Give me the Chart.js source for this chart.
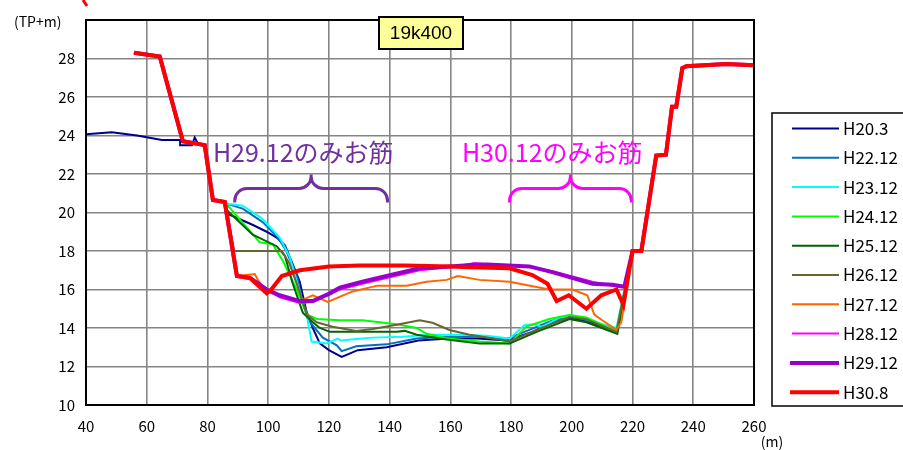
<!DOCTYPE html>
<html>
<head>
<meta charset="utf-8">
<script src="https://cdn.jsdelivr.net/npm/chart.js@4"></script>
<style>
  html, body { margin: 0; padding: 0; background: #fff; }
  #wrap { width: 903px; height: 450px; }
</style>
</head>
<body>
<div id="wrap"><canvas id="sectionChart" width="903" height="450"></canvas></div>
<script>
// Survey years
const seriesNames = ['H20.3', 'H22.12', 'H23.12', 'H24.12', 'H25.12', 'H26.12', 'H27.12', 'H28.12', 'H29.12', 'H30.8'];
const seriesColors = ['#00008B', '#0070C0', '#00FFFF', '#00FF00', '#006400', '#666633', '#FF6600', '#FF00FF', '#9900CC', '#FF0000'];
const seriesWidths = [2, 2, 2, 2, 2, 2, 2, 2, 4, 4];

// Shared bank profile (distance m, elevation TP+m)
const bankLeft = [[55.8, 28.3], [64.3, 28.1], [71.9, 23.7], [79.1, 23.5], [81.8, 20.65], [85.7, 20.55]];
const bankRight = [[220, 18], [222.9, 18], [227.8, 22.96], [231, 23], [233, 25.5], [234.4, 25.5], [236.4, 27.5], [237.7, 27.6], [250.8, 27.72], [260, 27.65]];

// H20.3 has its own left bank part
const h20_3Left = [[40, 24.07], [48.5, 24.17], [56.8, 24.0], [65, 23.77], [71, 23.77], [71, 23.5], [74.9, 23.5], [75.8, 23.9], [76.8, 23.6], [79.1, 23.5], [81.8, 20.65], [85.7, 20.55]];
const h20_3 = [[86.4, 19.95], [95, 19.35], [99.5, 19.0], [102.8, 18.7], [105.5, 18.3], [108, 17.35], [110.4, 16.4], [112.7, 14.8], [114.7, 14.0], [117, 13.2], [120, 12.85], [124.2, 12.5], [129.5, 12.85], [139, 13.0], [149.5, 13.35], [159.5, 13.45], [169, 13.45], [178.5, 13.35], [187, 13.8], [193.6, 14.3], [199.2, 14.5], [204.8, 14.35], [210, 14.1], [214.7, 13.8]];
const h22_12 = [[86.5, 20.45], [91.6, 20.2], [98.2, 19.5], [103.2, 18.7], [106, 18.0], [109.4, 16.7], [111.4, 15.3], [114.3, 14.2], [118, 13.5], [122.6, 13.1], [124.2, 12.8], [129, 13.05], [139, 13.15], [148.9, 13.45], [158.8, 13.55], [169, 13.55], [179, 13.45], [186, 13.9], [193, 14.35], [199.5, 14.6], [205, 14.4], [210, 14.15], [215, 13.85]];
const h23_12 = [[86.5, 20.45], [91.6, 20.35], [97.9, 19.7], [103.8, 18.7], [107.1, 17.7], [110.4, 15.85], [112.7, 14.65], [114.3, 13.3], [119.3, 13.2], [122.9, 13.45], [124, 13.35], [131, 13.45], [134.4, 13.5], [144.3, 13.55], [153.2, 13.65], [164, 13.65], [172, 13.6], [179.5, 13.45], [184.4, 14.15], [187.7, 14.2], [190, 14.05], [196, 14.55], [200.2, 14.65], [205, 14.45], [210, 14.2], [214.7, 14.0]];
const h24_12 = [[86.5, 20.4], [97.2, 18.45], [101.5, 18.35], [104.8, 17.5], [109.4, 16.0], [112.7, 14.7], [116, 14.47], [123.6, 14.4], [131, 14.4], [142.3, 14.2], [148.9, 14.0], [152.2, 13.7], [158.8, 13.47], [169.6, 13.3], [179.5, 13.2], [185, 14.07], [192.6, 14.47], [199.2, 14.67], [204.8, 14.55], [214.7, 13.85]];
const h25_12 = [[86.5, 20.1], [94.9, 18.85], [102.8, 18.25], [105.5, 17.75], [108, 16.35], [111.4, 14.8], [114.7, 14.3], [117, 14.0], [120.3, 13.8], [142.3, 13.8], [145, 13.85], [148.9, 13.65], [158.8, 13.4], [169.6, 13.2], [179.5, 13.2], [188.4, 13.8], [199.2, 14.47], [204.8, 14.3], [215, 13.7]];
const h26_12 = [[88.8, 18.0], [104.5, 18.0], [107, 17.35], [110.4, 15.85], [112.7, 14.7], [116, 14.3], [121.2, 14.07], [129, 13.85], [134.4, 13.95], [142.3, 14.17], [149.9, 14.4], [154.1, 14.27], [159.7, 13.9], [166.3, 13.65], [169.6, 13.57], [179.5, 13.3], [188.4, 13.9], [199.2, 14.57], [204.8, 14.45], [214.7, 13.8]];
const h27_12 = [[89.7, 16.7], [95.6, 16.8], [96.6, 16.5], [99.5, 15.9], [104, 15.65], [110.4, 15.4], [114.7, 15.7], [119.6, 15.35], [127.8, 15.9], [136, 16.2], [145.6, 16.2], [152.2, 16.4], [158.8, 16.5], [162.4, 16.7], [169.6, 16.5], [179.5, 16.4], [192.6, 16.0], [200.2, 16.0], [205.1, 15.7], [207.4, 14.7], [210, 14.4], [214.7, 13.9], [216.3, 14.3]];
const h28_12 = [[89.7, 16.7], [94, 16.6], [99.5, 16.0], [103.8, 15.6], [110.4, 15.3], [114.7, 15.35], [120.3, 15.75], [123.6, 16.0], [131, 16.3], [139, 16.6], [149.9, 17.0], [159.7, 17.15], [168, 17.38], [172, 17.3], [186, 17.2], [193.6, 16.95], [206.8, 16.4], [213.4, 16.2], [217.3, 16.1]];
const h29_12 = [[89.7, 16.7], [94, 16.6], [99.5, 16.0], [103.8, 15.7], [110.4, 15.4], [114.7, 15.4], [120.3, 15.8], [123.6, 16.1], [131, 16.4], [139, 16.7], [149.9, 17.1], [159.7, 17.2], [169.6, 17.3], [172, 17.3], [186, 17.2], [193.6, 16.9], [206.8, 16.3], [213.4, 16.25], [217.3, 16.15]];
const h30_8 = [[89.7, 16.7], [94, 16.6], [99.5, 15.8], [101, 16.0], [104.5, 16.7], [110.4, 17.0], [120, 17.2], [130, 17.25], [145, 17.25], [160, 17.2], [166.3, 17.15], [179.5, 17.1], [187, 16.75], [192, 16.3], [195, 15.4], [199, 15.7], [204.8, 15.0], [209.7, 15.7], [214.7, 16.0], [217, 15.2]];

const channels = [h20_3, h22_12, h23_12, h24_12, h25_12, h26_12, h27_12, h28_12, h29_12, h30_8];

// Notes above the channel
const notes = [
    { text: 'H29.12のみお筋', color: '#7030A0', x: 81.8, y: 23.1, from: 89.0, to: 139.3 },
    { text: 'H30.12のみお筋', color: '#FF00FF', x: 163.8, y: 23.1, from: 179.5, to: 219.6 },
];

const JP_FONT = "'Noto Sans CJK JP', 'Noto Sans', sans-serif";

function toPoints(pairs) {
    return pairs.map(([x, y]) => ({ x, y }));
}

const datasets = seriesNames.map((name, i) => {
    const left = i === 0 ? h20_3Left : bankLeft;
    return {
        label: name,
        data: toPoints([...left, ...channels[i], ...bankRight]),
        borderColor: seriesColors[i],
        backgroundColor: seriesColors[i],
        borderWidth: seriesWidths[i],
        pointRadius: 0,
        tension: 0,
        order: seriesNames.length - i,
    };
});

// Frame, title box, notes, braces, axis units and legend
const decorPlugin = {
    id: 'decor',
    afterDraw(chart) {
        const { ctx, chartArea, scales } = chart;
        const xs = scales.x, ys = scales.y;
        ctx.save();

        // frame
        ctx.strokeStyle = '#000';
        ctx.lineWidth = 2;
        ctx.strokeRect(chartArea.left, chartArea.top, chartArea.right - chartArea.left, chartArea.bottom - chartArea.top);

        // stray red mark at top left
        ctx.strokeStyle = '#FF0000';
        ctx.lineWidth = 3;
        ctx.beginPath();
        ctx.moveTo(83, 0);
        ctx.lineTo(87, 6);
        ctx.stroke();

        // section name
        ctx.fillStyle = '#FFFF99';
        ctx.fillRect(379, 17, 84, 32);
        ctx.strokeStyle = '#000';
        ctx.lineWidth = 2;
        ctx.strokeRect(379, 17, 84, 32);
        ctx.fillStyle = '#000';
        ctx.font = "19px 'Liberation Sans', Arial, sans-serif";
        ctx.textAlign = 'center';
        ctx.textBaseline = 'middle';
        ctx.fillText('19k400', 421, 34);

        // notes and braces
        notes.forEach((n) => {
            ctx.fillStyle = n.color;
            ctx.font = '25px ' + JP_FONT;
            ctx.textAlign = 'left';
            ctx.textBaseline = 'middle';
            ctx.fillText(n.text, xs.getPixelForValue(n.x), ys.getPixelForValue(n.y));

            const x0 = xs.getPixelForValue(n.from);
            const x1 = xs.getPixelForValue(n.to);
            const xm = (x0 + x1) / 2;
            const yb = ys.getPixelForValue(21.25);
            ctx.strokeStyle = n.color;
            ctx.lineWidth = 3;
            ctx.beginPath();
            ctx.moveTo(x0, yb + 14);
            ctx.arcTo(x0, yb, x0 + 12, yb, 12);
            ctx.lineTo(xm - 12, yb);
            ctx.arcTo(xm, yb, xm, yb - 14, 12);
            ctx.lineTo(xm, yb - 14);
            ctx.moveTo(xm, yb - 14);
            ctx.arcTo(xm, yb, xm + 12, yb, 12);
            ctx.lineTo(x1 - 12, yb);
            ctx.arcTo(x1, yb, x1, yb + 14, 12);
            ctx.lineTo(x1, yb + 14);
            ctx.stroke();
        });

        // axis units
        ctx.fillStyle = '#000';
        ctx.font = '14px ' + JP_FONT;
        ctx.textAlign = 'left';
        ctx.textBaseline = 'middle';
        ctx.fillText('(TP+m)', 14, 22);
        ctx.textAlign = 'center';
        ctx.fillText('(m)', 772, 442);

        // legend
        ctx.fillStyle = '#fff';
        ctx.fillRect(772, 113, 140, 293);
        ctx.strokeStyle = '#000';
        ctx.lineWidth = 1.5;
        ctx.strokeRect(772, 113, 140, 293);
        ctx.font = '17px ' + JP_FONT;
        ctx.textAlign = 'left';
        ctx.textBaseline = 'middle';
        seriesNames.forEach((name, i) => {
            const y = 128.5 + i * 29.3;
            ctx.strokeStyle = seriesColors[i];
            ctx.lineWidth = seriesWidths[i];
            ctx.beginPath();
            ctx.moveTo(seriesWidths[i] > 2 ? 790 : 792, y);
            ctx.lineTo(839, y);
            ctx.stroke();
            ctx.fillStyle = '#000';
            ctx.fillText(name, 843, y);
        });

        ctx.restore();
    },
};

const ctx = document.getElementById('sectionChart').getContext('2d');
new Chart(ctx, {
    type: 'line',
    data: { datasets },
    options: {
        responsive: false,
        animation: false,
        parsing: true,
        layout: { padding: { top: 8, right: 149, left: 0, bottom: 0 } },
        plugins: {
            legend: { display: false },
            tooltip: { enabled: false },
        },
        scales: {
            x: {
                type: 'linear',
                min: 40,
                max: 260,
                afterFit: (scale) => { scale.height = 45; },
                ticks: {
                    stepSize: 20,
                    color: '#000',
                    padding: 12,
                    maxRotation: 0,
                    font: { family: JP_FONT, size: 15 },
                },
                grid: { color: '#858585', lineWidth: 1.6, drawTicks: false },
                border: { color: '#000', width: 2 },
            },
            y: {
                min: 10,
                max: 30,
                afterFit: (scale) => { scale.width = 86; },
                ticks: {
                    stepSize: 2,
                    color: '#000',
                    padding: 11,
                    font: { family: JP_FONT, size: 15 },
                    callback: (value) => (value === 30 ? '' : value),
                },
                grid: { color: '#858585', lineWidth: 1.6, drawTicks: false },
                border: { color: '#000', width: 2 },
            },
        },
    },
    plugins: [decorPlugin],
});
</script>
</body>
</html>
